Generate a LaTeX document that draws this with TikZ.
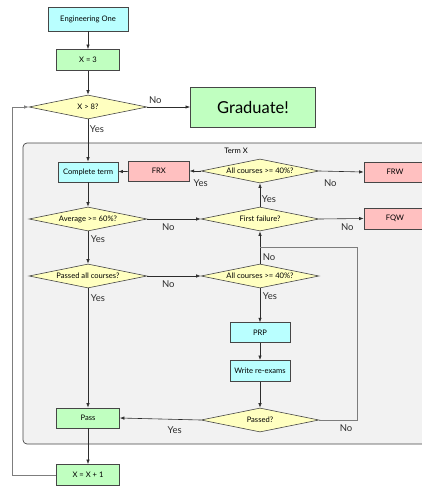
\documentclass[tikz,border=0pt]{standalone}
\usepackage{fontspec}
\setmainfont{Lato}
\usepackage{tikz}
\usetikzlibrary{
  positioning,
  arrows.meta,
  shapes.geometric
}
\definecolor{procbg}{RGB}{185,255,255}
\definecolor{stepbg}{RGB}{192,255,192}
\definecolor{failbg}{RGB}{255,192,192}
\definecolor{decbg}{RGB}{255,255,192}
\definecolor{termbg}{RGB}{242,242,242}
\definecolor{boxborder}{RGB}{70,70,70}
\definecolor{arrowcolor}{RGB}{45,45,45}
\definecolor{loopcolor}{RGB}{125,125,125}
\tikzset{
  procbox/.style={
    draw=boxborder, fill=procbg, line width=0.7pt,
    minimum width=60pt, minimum height=20pt, inner sep=0pt,
    font=\fontsize{7.6}{8}\selectfont, align=center
  },
  stepbox/.style={
    procbox, fill=stepbg
  },
  failbox/.style={
    procbox, fill=failbg, minimum width=62pt
  },
  decnode/.style={
    diamond, aspect=4.9, draw=boxborder, fill=decbg, line width=0.6pt,
    minimum width=118pt, minimum height=24pt, inner sep=0pt,
    font=\fontsize{7.6}{8}\selectfont
  },
  termframe/.style={
    draw=boxborder, fill=termbg, rounded corners=4pt, line width=0.7pt
  },
  flowarrow/.style={
    ->, >={Latex[length=4.5pt,width=3.4pt]}, line width=0.6pt, draw=arrowcolor
  },
  loopline/.style={
    line width=0.6pt, draw=loopcolor
  },
  lbl/.style={
    font=\fontsize{9.5}{10}\selectfont, inner sep=0pt, text=arrowcolor
  }
}

\begin{document}
\begin{tikzpicture}[x=1pt, y=-1pt, node distance=17pt]
  \useasboundingbox (0,0) rectangle (421,487);
  % term container
  \draw[termframe] (23,143) rectangle (445,444);
  \node[font=\fontsize{7.6}{8}\selectfont] (termtitle) at (236,151) {Term X};

  % main column
  \node[procbox, minimum width=80pt, minimum height=24pt] (eng) at (88,19) {Engineering One};
  \node[stepbox, minimum width=63pt, minimum height=21pt] (xthree) at (88,60) {X = 3};
  \node[decnode] (xcheck) at (88,107) {X > 8?};
  \node[stepbox, minimum width=125pt, minimum height=40pt, line width=0.9pt,
        font=\fontsize{16.5}{18}\selectfont] (grad) at (253,107) {Graduate!};
  \node[procbox] (complete) at (88,172) {Complete term};
  \node[decnode] (avg) at (88,219) {Average >= 60\%?};
  \node[decnode] (passall) at (88,276) {Passed all courses?};
  \node[stepbox, minimum width=63pt] (pass) at (88,418) {Pass};
  \node[stepbox, minimum width=63pt, minimum height=21pt] (xinc) at (88,475) {X = X + 1};

  % failure column
  \node[decnode] (allone) at (260,171) {All courses >= 40\%?};
  \node[failbox, left=11pt of allone, minimum width=61pt] (frx) {FRX};
  \node[failbox] (frw) at (395,172) {FRW};
  \node[decnode] (first) at (260,219) {First failure?};
  \node[failbox, minimum height=21pt] (fqw) at (395,218.5) {FQW};
  \node[decnode] (alltwo) at (260,276) {All courses >= 40\%?};
  \node[procbox, below=34pt of alltwo] (prp) {PRP};
  \node[procbox, minimum height=21pt, below=of prp] (rexam) {Write re-exams};
  \node[decnode, below=26pt of rexam] (passed) {Passed?};

  \coordinate (loopleft) at (12,107);
  \coordinate (retright) at (357,247);

  % connectors
  \draw[flowarrow] (eng) -- (xthree);
  \draw[flowarrow] (xthree) -- (xcheck);
  \draw[flowarrow] (xcheck.east) -- node[lbl, at start, xshift=8pt, yshift=7pt] {No} (grad.west);
  \draw[flowarrow] (xcheck.south) -- node[lbl, at start, xshift=9pt, yshift=-10pt] {Yes} (complete.north);
  \draw[flowarrow] (complete) -- (avg.north);
  \draw[flowarrow] (avg.south) -- node[lbl, at start, xshift=10pt, yshift=-8pt] {Yes} (passall.north);
  \draw[flowarrow] (passall.south) -- node[lbl, at start, xshift=10pt, yshift=-10pt] {Yes} (pass.north);
  \draw[flowarrow] (pass) -- (xinc);
  \draw[loopline, flowarrow, draw=loopcolor] (xinc.west) -| (loopleft) -- (xcheck.west);

  \draw[flowarrow] (avg.east) -- node[lbl, at start, xshift=21pt, yshift=-8pt] {No} (first.west);
  \draw[flowarrow] (first.north) -- node[lbl, at start, xshift=9pt, yshift=8pt] {Yes} (allone.south);
  \draw[flowarrow] (allone.west) -- node[lbl, at start, yshift=-12pt] {Yes} (frx.east);
  \draw[flowarrow] (frx) -- (complete);
  \draw[flowarrow] (allone.east) -- node[lbl, at start, xshift=11pt, yshift=-12pt] {No} (frw.west);
  \draw[flowarrow] (first.east) -- node[lbl, at start, xshift=28pt, yshift=-8pt] {No} (fqw.west);
  \draw[flowarrow] (passall.east) -- node[lbl, at start, xshift=21pt, yshift=-8pt] {No} (alltwo.west);
  \draw[flowarrow] (alltwo.north) -- node[lbl, at start, xshift=9pt, yshift=7pt] {No} (first.south);
  \draw[flowarrow] (alltwo.south) -- node[lbl, at start, xshift=10pt, yshift=-8pt] {Yes} (prp.north);
  \draw[flowarrow] (prp) -- (rexam);
  \draw[flowarrow] (rexam) -- (passed.north);
  \draw[flowarrow] (passed.west) -- node[lbl, at start, xshift=-26pt, yshift=-10pt] {Yes} (pass.east);
  \draw[loopline] (passed.east) -| (retright) -- (retright -| first.south);
  \node[lbl] (passedno) at (346,428) {No};
\end{tikzpicture}
\end{document}
